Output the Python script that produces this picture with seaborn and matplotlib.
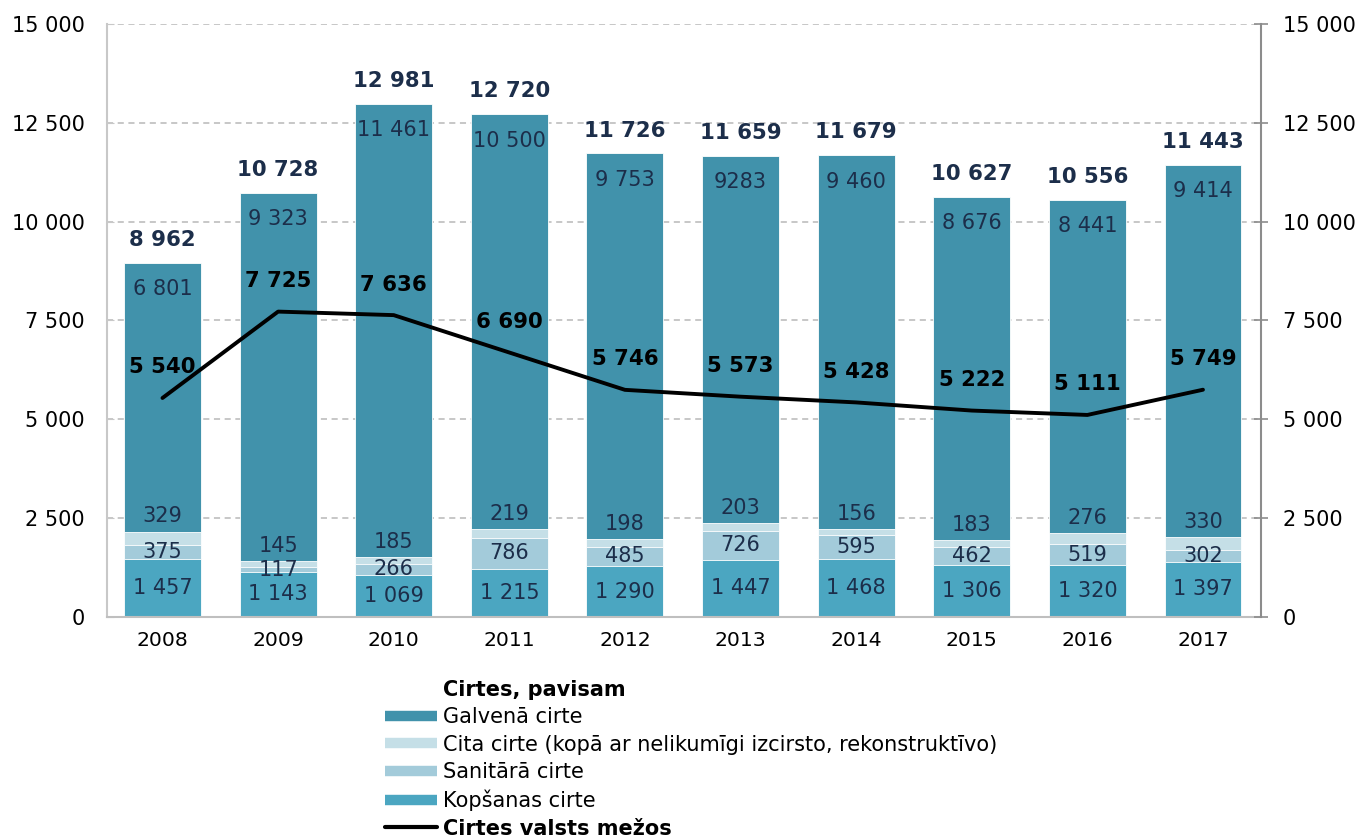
import numpy as np
import matplotlib
matplotlib.use("Agg")
import matplotlib.pyplot as plt
import seaborn as sns
from matplotlib.lines import Line2D
from matplotlib.ticker import FuncFormatter, FixedLocator

# Data (thousand m3)
years = ["2008", "2009", "2010", "2011", "2012", "2013", "2014", "2015", "2016", "2017"]
kopsanas = [1457, 1143, 1069, 1215, 1290, 1447, 1468, 1306, 1320, 1397]
sanitara = [375, 117, 266, 786, 485, 726, 595, 462, 519, 302]
cita = [329, 145, 185, 219, 198, 203, 156, 183, 276, 330]
galvena = [6801, 9323, 11461, 10500, 9753, 9283, 9460, 8676, 8441, 9414]
valsts = [5540, 7725, 7636, 6690, 5746, 5573, 5428, 5222, 5111, 5749]

c_galv = "#4192AB"
c_cita = "#C5DFE7"
c_sanit = "#A3CBDA"
c_kops = "#4BA6C1"
c_navy = "#1C2E4A"


def fmt(v):
    return f"{int(v):,}".replace(",", " ")


# the reference prints 2013 main felling without the space
galv_labels = [fmt(v) for v in galvena]
galv_labels[5] = str(galvena[5])

sns.set_style("white")
plt.rcParams["font.family"] = ["DejaVu Sans"]
plt.rcParams["text.color"] = "black"

fig = plt.figure(figsize=(13.63, 8.39), dpi=100)
ax = fig.add_axes([0.0785, 0.2646, 0.8465, 0.7068])

k = np.array(kopsanas)
s = np.array(sanitara)
c = np.array(cita)
g = np.array(galvena)
total = k + s + c + g

w = 0.665
for vals, col in [(total, c_galv), (k + s + c, c_cita), (k + s, c_sanit), (k, c_kops)]:
    sns.barplot(x=years, y=vals, color=col, width=w, saturation=1,
                edgecolor="white", linewidth=0.6, ax=ax, zorder=2)

x = np.arange(len(years))
sns.lineplot(x=x, y=valsts, color="black", linewidth=2.8, ax=ax, zorder=4)

fs_seg = 15
fs_bold = 15.3
for i in range(len(years)):
    ax.text(i, k[i] / 2, fmt(k[i]), ha="center", va="center", fontsize=fs_seg,
            color=c_navy, zorder=5)
    ax.text(i, k[i] + s[i] / 2, fmt(s[i]), ha="center", va="center",
            fontsize=fs_seg, color=c_navy, zorder=5)
    ax.annotate(fmt(c[i]), (i, k[i] + s[i] + c[i]), xytext=(0, 11),
                textcoords="offset points", ha="center", va="center",
                fontsize=fs_seg, color=c_navy, zorder=5)
    ax.annotate(galv_labels[i], (i, total[i]), xytext=(0, -19),
                textcoords="offset points", ha="center", va="center",
                fontsize=fs_seg, color=c_navy, zorder=5)
    ax.annotate(fmt(total[i]), (i, total[i]), xytext=(0, 16.5),
                textcoords="offset points", ha="center", va="center",
                fontsize=fs_bold, fontweight="bold", color=c_navy, zorder=5)
    ax.annotate(fmt(valsts[i]), (i, valsts[i]), xytext=(0, 22),
                textcoords="offset points", ha="center", va="center",
                fontsize=fs_bold, fontweight="bold", color="black", zorder=5)

ax.set_xlim(-0.48, 9.5)
ax.set_ylim(0, 15000)
yt = np.arange(0, 15001, 2500)
ax.set_yticks(yt)
ax.yaxis.set_major_formatter(FuncFormatter(lambda v, p: fmt(v)))
ax.set_xlabel("")
ax.set_ylabel("")
ax.set_axisbelow(True)
ax.yaxis.grid(True, color="#B8B8B8", linestyle=(0, (4, 3)), linewidth=1.1)
ax.xaxis.grid(False)

for sp in ["top", "right"]:
    ax.spines[sp].set_visible(False)
ax.spines["left"].set_color("#C8C8C8")
ax.spines["left"].set_linewidth(1.5)
ax.spines["bottom"].set_color("#BFBFBF")
ax.spines["bottom"].set_linewidth(1.5)

ax.tick_params(axis="y", direction="in", length=5, color="#C8C8C8",
               labelsize=15, pad=16, labelcolor="black")
ax.tick_params(axis="x", which="major", length=0, labelsize=14.7, pad=10,
               labelcolor="black")
ax.xaxis.set_minor_locator(FixedLocator(np.arange(0.5, 9.5, 1)))
ax.tick_params(axis="x", which="minor", direction="out", length=7,
               color="#BFBFBF", width=1.2)

ax2 = ax.twinx()
ax2.set_ylim(0, 15000)
ax2.set_yticks(yt)
ax2.yaxis.set_major_formatter(FuncFormatter(lambda v, p: fmt(v)))
ax2.grid(False)
for sp in ["top", "left", "bottom"]:
    ax2.spines[sp].set_visible(False)
ax2.spines["right"].set_color("#8C8C8C")
ax2.spines["right"].set_linewidth(1.5)
ax2.tick_params(axis="y", direction="inout", length=10, color="#8C8C8C",
                width=1.2, labelsize=15, pad=11, labelcolor="black")

# legend
handles = [
    Line2D([], [], color="none"),
    Line2D([], [], color=c_galv, linewidth=7.5, solid_capstyle="butt"),
    Line2D([], [], color=c_cita, linewidth=7.5, solid_capstyle="butt"),
    Line2D([], [], color=c_sanit, linewidth=7.5, solid_capstyle="butt"),
    Line2D([], [], color=c_kops, linewidth=7.5, solid_capstyle="butt"),
    Line2D([], [], color="black", linewidth=3),
]
labels = [
    "Cirtes, pavisam",
    "Galvenā cirte",
    "Cita cirte (kopā ar nelikumīgi izcirsto, rekonstruktīvo)",
    "Sanitārā cirte",
    "Kopšanas cirte",
    "Cirtes valsts mežos",
]
leg = fig.legend(handles, labels, loc="upper left", bbox_to_anchor=(0.2825, 0.19),
                 frameon=False, fontsize=15, handlelength=2.5, handletextpad=0.3,
                 labelspacing=0.36, borderpad=0, borderaxespad=0)
for t in leg.get_texts():
    t.set_color("black")
for i in (0, 5):
    leg.get_texts()[i].set_fontweight("bold")

fig.savefig("out.png", dpi=100)
